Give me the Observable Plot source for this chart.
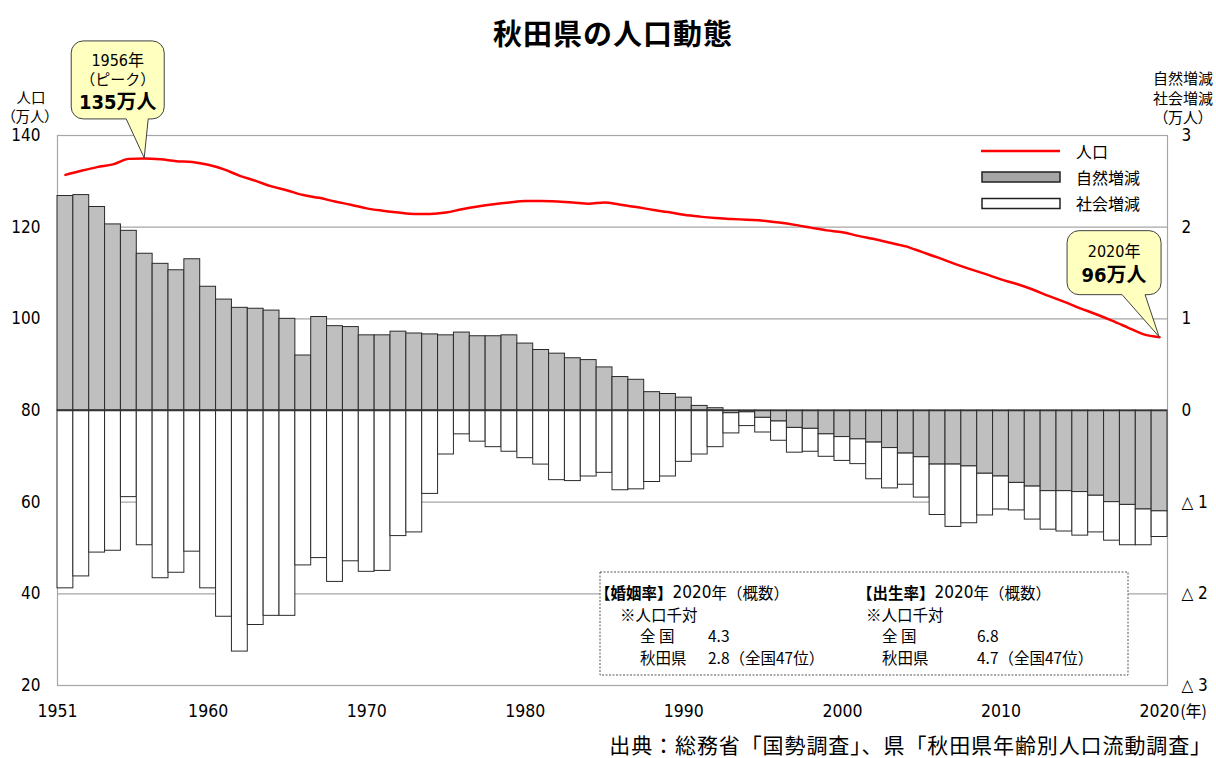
<!DOCTYPE html>
<html lang="ja">
<head>
<meta charset="utf-8">
<script src="https://cdn.jsdelivr.net/npm/d3@7"></script>
<script src="https://cdn.jsdelivr.net/npm/@observablehq/plot@0.6"></script>
<style>
  html, body { margin: 0; padding: 0; background: #fff; }
  #chart { width: 1216px; height: 758px; }
</style>
</head>
<body>
<div id="chart"></div>
<script>
// ---------- data ----------
const years = [1951,1952,1953,1954,1955,1956,1957,1958,1959,1960,
  1961,1962,1963,1964,1965,1966,1967,1968,1969,1970,
  1971,1972,1973,1974,1975,1976,1977,1978,1979,1980,
  1981,1982,1983,1984,1985,1986,1987,1988,1989,1990,
  1991,1992,1993,1994,1995,1996,1997,1998,1999,2000,
  2001,2002,2003,2004,2005,2006,2007,2008,2009,2010,
  2011,2012,2013,2014,2015,2016,2017,2018,2019,2020];

// 人口（万人）
const population = [131.4,132.3,133.1,133.7,134.9,135.0,134.8,134.4,134.2,133.6,
  132.6,131.2,130.1,128.9,128.0,127.0,126.4,125.6,124.9,124.1,
  123.6,123.2,122.9,122.9,123.2,123.9,124.5,125.0,125.4,125.7,
  125.7,125.6,125.4,125.1,125.4,124.9,124.4,123.8,123.3,122.7,
  122.3,122.0,121.8,121.6,121.4,121.0,120.5,119.9,119.3,118.9,
  118.1,117.4,116.6,115.8,114.6,113.4,112.1,110.9,109.8,108.6,
  107.6,106.4,105.0,103.7,102.3,101.0,99.6,98.1,96.6,96.0];

// 自然増減（万人）
const natural = [2.34,2.35,2.22,2.03,1.96,1.71,1.60,1.53,1.65,1.35,
  1.21,1.12,1.11,1.09,1.00,0.60,1.02,0.92,0.91,0.82,
  0.82,0.86,0.84,0.83,0.82,0.85,0.81,0.81,0.82,0.73,
  0.66,0.62,0.57,0.55,0.47,0.365,0.335,0.20,0.18,0.14,
  0.05,0.025,-0.03,-0.02,-0.08,-0.12,-0.19,-0.20,-0.26,-0.29,
  -0.315,-0.35,-0.41,-0.47,-0.51,-0.59,-0.59,-0.61,-0.69,-0.72,
  -0.79,-0.83,-0.88,-0.88,-0.89,-0.93,-1.00,-1.03,-1.08,-1.10];

// 社会増減（万人）
const social = [-1.94,-1.81,-1.55,-1.53,-0.945,-1.47,-1.83,-1.77,-1.54,-1.94,
  -2.25,-2.63,-2.34,-2.24,-2.24,-1.69,-1.61,-1.87,-1.645,-1.76,
  -1.75,-1.37,-1.33,-0.91,-0.48,-0.26,-0.34,-0.40,-0.45,-0.52,
  -0.59,-0.76,-0.77,-0.72,-0.68,-0.87,-0.86,-0.78,-0.72,-0.56,
  -0.48,-0.40,-0.22,-0.15,-0.16,-0.21,-0.27,-0.25,-0.245,-0.26,
  -0.27,-0.40,-0.44,-0.34,-0.44,-0.55,-0.68,-0.62,-0.455,-0.36,
  -0.30,-0.36,-0.42,-0.44,-0.475,-0.40,-0.42,-0.44,-0.39,-0.28];

const seriesNames = ["自然増減", "社会増減"];
const seriesFills = ["#bfbfbf", "#ffffff"];
const yTicks = [-3, -2, -1, 0, 1, 2, 3];          // right axis (万人)
const xTicks = [1960, 1970, 1980, 1990, 2000, 2010, 2020];
const firstTick = [1951];

const title = "秋田県の人口動態";
const caption = "出典：総務省「国勢調査」、県「秋田県年齢別人口流動調査」";
const peakYear = 1956, peakPop = 135, lastYear = 2020, lastPop = 96;

// ---------- build tables ----------
const rows = [];
years.forEach((yr, i) => {
  rows.push({year: yr, type: seriesNames[0], value: natural[i]});
  rows.push({year: yr, type: seriesNames[1], value: social[i]});
});
const popRows = years.map((yr, i) => ({year: yr, pop: population[i]}));
// left axis (人口, 20–140) expressed on the right-axis scale (−3…3)
const toRight = p => (p - 80) / 20;

const FONT_NUM = `"Liberation Sans Narrow","Arial Narrow","DejaVu Sans Condensed","Noto Sans CJK JP",sans-serif`;
const FONT_JP = `"Noto Sans CJK JP","Noto Sans",sans-serif`;

const plot = Plot.plot({
  width: 1216,
  height: 758,
  marginTop: 135,
  marginBottom: 73,
  marginLeft: 57,
  marginRight: 49,
  style: {fontFamily: FONT_NUM, fontSize: "17px", color: "#000", background: "#fff"},
  x: {type: "band", domain: years, padding: 0, axis: null},
  y: {domain: [-3, 3], axis: null},
  color: {domain: seriesNames, range: seriesFills},
  marks: [
    Plot.gridY(yTicks, {stroke: "#a6a6a6", strokeOpacity: 1, strokeWidth: 1.2}),
    Plot.frame({stroke: "#a6a6a6", strokeWidth: 1.2}),
    Plot.barY(rows, Plot.stackY({
      x: "year", y: "value", fill: "type", z: "type", order: null,
      stroke: "#2a2a2a", strokeWidth: 1
    })),
    Plot.ruleY([0], {stroke: "#333", strokeWidth: 1.5}),
    Plot.line(popRows, {x: "year", y: d => toRight(d.pop), stroke: "#ff0000", strokeWidth: 2.5, curve: "monotone-x"}),
    Plot.axisY(yTicks, {anchor: "left", tickSize: 0, tickPadding: 17, label: null,
      tickFormat: d => String(80 + 20 * d), fontSize: 17}),
    Plot.axisY(yTicks, {anchor: "right", tickSize: 0, tickPadding: 14, label: null,
      tickFormat: d => d < 0 ? "△ " + (-d) : String(d), fontSize: 17}),
    Plot.axisX(xTicks, {anchor: "bottom", tickSize: 0, tickPadding: 19, label: null, fontSize: 17.5,
      tickFormat: d => String(d)}),
    Plot.axisX(firstTick, {anchor: "bottom", tickSize: 0, tickPadding: 19, label: null, fontSize: 17.5, dx: -8,
      tickFormat: d => String(d)}),
    Plot.text([lastYear], {x: d => d, frameAnchor: "bottom", text: () => "(年)", dx: 34, dy: 26,
      fontSize: 16, fontFamily: FONT_JP, lineAnchor: "middle"})
  ]
});

document.getElementById("chart").appendChild(plot);

// ---------- annotations ----------
const svg = d3.select(plot);
const xs = plot.scale("x"), ys = plot.scale("y");
const xc = yr => xs.apply(yr) + xs.bandwidth / 2;
const yv = p => ys.apply(toRight(p));

function addText(g, str, x, y, opt = {}) {
  return g.append("text")
    .attr("x", x).attr("y", y)
    .attr("text-anchor", opt.anchor || "middle")
    .attr("dominant-baseline", "central")
    .attr("font-family", opt.family || FONT_JP)
    .attr("font-size", opt.size || 16)
    .attr("font-weight", opt.weight || "normal")
    .attr("fill", "#000")
    .style("font-feature-settings", opt.palt ? "'palt'" : null)
    .text(str);
}

const ann = svg.append("g");

// title
addText(ann, title, 613, 32, {size: 29, weight: "bold"}).attr("letter-spacing", 1);

// axis titles
addText(ann, "人口", 31, 96, {size: 14.5});
addText(ann, "（万人）", 30, 115, {size: 14.5, palt: true});
addText(ann, "自然増減", 1183, 77, {size: 15});
addText(ann, "社会増減", 1183, 97, {size: 15});
addText(ann, "（万人）", 1183, 116, {size: 15, palt: true});

// caption
addText(ann, caption, 1212, 744, {size: 21, anchor: "end"}).attr("letter-spacing", 0.9);

// callouts
function callout(tx, ty, L, T, R, B, p1, p2, r) {
  const d = `M${L + r},${T} H${R - r} A${r},${r} 0 0 1 ${R},${T + r} V${B - r} A${r},${r} 0 0 1 ${R - r},${B} ` +
            `H${p2} L${tx},${ty} L${p1},${B} H${L + r} A${r},${r} 0 0 1 ${L},${B - r} V${T + r} A${r},${r} 0 0 1 ${L + r},${T} Z`;
  ann.append("path").attr("d", d).attr("fill", "#ffffc0").attr("stroke", "#404040").attr("stroke-width", 1);
}
{
  const tx = xc(peakYear), ty = yv(peakPop);
  const L = tx - 73, R = tx + 20, T = ty - 117, B = ty - 39;
  callout(tx, ty, L, T, R, B, tx - 18, tx + 4, 12);
  const cx = (L + R) / 2;
  addText(ann, "1956年", cx, T + 20, {size: 16, family: FONT_NUM});
  addText(ann, "（ピーク）", cx, T + 38, {size: 15});
  addText(ann, "135万人", cx, T + 61, {size: 20, weight: "bold", family: FONT_NUM});
}
{
  const tx = xc(lastYear), ty = yv(lastPop);
  const L = tx - 92, R = tx + 2, T = ty - 106, B = ty - 42;
  callout(tx, ty, L, T, R, B, tx - 37, tx - 14, 12);
  const cx = (L + R) / 2;
  addText(ann, "2020年", cx, T + 21, {size: 16, family: FONT_NUM});
  addText(ann, "96万人", cx, T + 44, {size: 20, weight: "bold", family: FONT_NUM});
}

// legend
const lg = ann.append("g");
lg.append("line").attr("x1", 981).attr("x2", 1060).attr("y1", 151).attr("y2", 151)
  .attr("stroke", "#ff0000").attr("stroke-width", 2.5);
addText(lg, "人口", 1076, 151, {size: 16, anchor: "start"});
lg.append("rect").attr("x", 982).attr("y", 172).attr("width", 78).attr("height", 10)
  .attr("fill", "#a6a6a6").attr("stroke", "#222").attr("stroke-width", 1.5);
addText(lg, seriesNames[0], 1076, 177, {size: 16, anchor: "start"});
lg.append("rect").attr("x", 982).attr("y", 198.5).attr("width", 78).attr("height", 10)
  .attr("fill", "#ffffff").attr("stroke", "#222").attr("stroke-width", 1.5);
addText(lg, seriesNames[1], 1076, 203, {size: 16, anchor: "start"});

// info box
const ib = ann.append("g");
ib.append("rect").attr("x", 600).attr("y", 572).attr("width", 528).attr("height", 103)
  .attr("fill", "#fff").attr("stroke", "#555").attr("stroke-width", 1).attr("stroke-dasharray", "2,1.5");
const FS = 15.5;
function headLine(x, y, head, rest) {
  const t = addText(ib, "", x, y, {size: FS, anchor: "start"});
  t.append("tspan").attr("font-weight", "bold").text(head);
  t.append("tspan").attr("font-family", FONT_NUM).attr("font-size", 17).text(rest.slice(0, 4));
  t.append("tspan").text(rest.slice(4));
}
headLine(595, 592, "【婚姻率】", "2020年（概数）");
headLine(857, 592, "【出生率】", "2020年（概数）");
addText(ib, "※人口千対", 620, 613.5, {size: FS, anchor: "start"});
addText(ib, "※人口千対", 866, 613.5, {size: FS, anchor: "start"});
addText(ib, "全 国", 640, 635, {size: FS, anchor: "start"});
addText(ib, "4.3", 708, 635, {size: FS, anchor: "start"});
addText(ib, "秋田県", 640, 656.5, {size: FS, anchor: "start"});
addText(ib, "2.8（全国47位）", 708, 656.5, {size: FS, anchor: "start"});
addText(ib, "全 国", 882, 635, {size: FS, anchor: "start"});
addText(ib, "6.8", 977, 635, {size: FS, anchor: "start"});
addText(ib, "秋田県", 882, 656.5, {size: FS, anchor: "start"});
addText(ib, "4.7（全国47位）", 977, 656.5, {size: FS, anchor: "start"});
</script>
</body>
</html>
